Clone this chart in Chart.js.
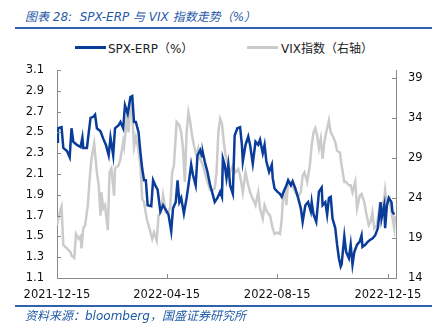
<!DOCTYPE html>
<html>
<head>
<meta charset="utf-8">
<script src="https://cdn.jsdelivr.net/npm/chart.js@4.4.1/dist/chart.umd.min.js"></script>
<style>
  body { margin: 0; width: 447px; height: 332px; position: relative; overflow: hidden; background: #fff;
         font-family: "DejaVu Sans", "Noto Sans CJK SC", sans-serif; }
  #title { position: absolute; left: 25px; top: 7px; font-size: 12px; font-style: italic; color: #1f5aa8; white-space: nowrap; }
  #src { position: absolute; left: 25px; top: 305px; font-size: 12px; font-style: italic; color: #1f5aa8; white-space: nowrap; }
  .rule { position: absolute; left: 15px; width: 417px; height: 2px; background: #2f62ab; }
  .lg { position: absolute; height: 3px; }
  .lgt { position: absolute; top: 39px; font-size: 12px; color: #222; white-space: nowrap; }
  #box { position: absolute; left: 0; top: 0; width: 447px; height: 332px; }
</style>
</head>
<body>
<div id="title">图表 28:&nbsp; SPX-ERP 与 VIX 指数走势（%）</div>
<div class="rule" style="top:27px"></div>
<div class="lg" style="left:75px;top:46px;width:31px;background:#0a3c9a"></div>
<div class="lgt" style="left:108px">SPX-ERP（%）</div>
<div class="lg" style="left:247px;top:46px;width:31px;background:#cbcbcb"></div>
<div class="lgt" style="left:281px">VIX指数（右轴）</div>
<div id="box"><canvas id="c" width="447" height="332"></canvas></div>
<div class="rule" style="top:305px"></div>
<div id="src" style="top:306px">资料来源：bloomberg，国盛证券研究所</div>
<script>
// days counted from 2021-12-15
var tickDays = [0, 121, 243, 365];
var tickLabels = ['2021-12-15', '2022-04-15', '2022-08-15', '2022-12-15'];
var leftTicks = [1.1, 1.3, 1.5, 1.7, 1.9, 2.1, 2.3, 2.5, 2.7, 2.9, 3.1];
var rightTicks = [14, 19, 24, 29, 34, 39];

var spxDays = [0,1,5,7,11,14,16,18,22,26,28,29,33,37,40,42,44,48,51,54,57,59,62,64,68,70,73,75,78,81,83,85,87,90,
  92,94,96,98,100,104,106,109,111,114,117,121,123,126,128,131,133,135,137,140,143,145,148,150,153,155,158,160,161,163,
  166,169,171,174,177,180,182,183,185,187,189,191,194,196,199,202,204,205,208,211,213,216,219,222,224,227,229,231,234,
  237,238,240,243,246,248,250,253,255,258,260,263,266,269,271,274,277,280,281,283,286,289,292,293,296,298,300,302,304,
  307,309,311,313,314,317,319,322,324,326,328,331,334,336,337,340,343,346,348,351,354,357,358,361,362,364,366,369,370,372];
var spxVals = [2.41,2.54,2.55,2.35,2.32,2.26,2.54,2.41,2.38,2.36,2.45,2.35,2.35,2.64,2.65,2.67,2.54,2.51,2.44,2.38,2.28,2.45,2.28,2.54,2.57,2.60,2.54,2.76,2.68,2.84,2.85,2.60,2.60,2.50,
  2.31,2.15,2.04,2.04,1.80,1.79,2.04,1.98,1.95,1.74,1.80,1.74,1.71,1.55,1.77,1.83,2.04,1.83,1.87,1.72,1.87,1.99,2.19,2.09,1.99,2.28,2.33,2.27,2.30,2.22,
  2.12,1.99,1.93,1.83,1.87,1.93,1.88,2.25,2.19,2.06,2.19,1.99,1.91,2.47,2.54,2.55,2.38,2.22,2.38,2.46,2.38,2.20,2.41,2.38,2.43,2.30,2.38,2.22,2.12,
  2.19,2.06,1.96,1.93,1.91,1.88,1.93,1.99,2.04,1.99,2.03,1.96,1.87,1.77,1.64,1.80,1.83,1.74,1.83,1.71,1.64,1.93,1.97,1.80,1.83,1.71,1.87,1.88,1.67,
  1.58,1.42,1.29,1.21,1.23,1.50,1.35,1.29,1.42,1.23,1.35,1.42,1.45,1.51,1.40,1.42,1.45,1.47,1.48,1.51,1.58,1.83,1.67,1.80,1.58,1.80,1.87,1.83,1.74,1.71];

var vixDays = [0,3,5,7,11,15,16,19,21,24,26,27,29,31,34,36,38,41,44,46,48,49,51,53,56,58,60,63,64,68,70,73,74,77,79,81,83,85,87,89,
  92,94,96,99,102,105,107,110,112,115,117,120,123,125,127,129,132,135,137,139,141,143,145,147,149,151,154,156,158,161,164,166,169,171,
  174,176,178,180,182,184,186,189,191,194,197,200,202,205,208,211,213,216,219,222,224,227,229,232,235,238,240,243,246,248,249,252,253,
  255,258,260,263,266,269,271,273,276,279,281,283,285,287,289,291,293,295,297,300,302,304,307,309,312,314,317,319,322,324,326,329,331,
  334,336,339,341,344,346,348,350,353,356,358,361,362,364,367,369,372,373];
var vixVals = [20.6,22.2,22.9,18.1,17.7,17.2,16.8,16.5,19.5,18.9,19.2,17.7,20.2,20.6,23.1,26.4,28.9,30.8,27.2,25.6,21.8,24.7,22.7,23.1,20.0,27.2,27.7,24.3,27.7,28.1,28.9,31.0,30.4,33.9,32.2,36.4,34.3,30.4,31.6,30.6,
  28.1,23.9,23.5,21.4,20.2,18.9,19.7,18.7,21.8,22.2,24.3,22.2,22.2,22.9,27.2,28.1,33.5,33.1,32.2,30.2,26.0,32.2,34.7,33.5,31.8,30.6,29.3,30.2,28.9,28.1,26.8,26.0,25.0,24.9,
  25.2,27.2,32.2,33.9,33.3,31.0,29.3,28.1,27.2,28.1,27.2,27.6,26.8,24.7,27.2,25.6,24.7,23.9,23.1,24.7,22.7,21.4,23.1,22.2,21.8,20.2,19.5,19.7,19.5,21.4,23.5,24.7,23.1,
  26.0,26.0,25.6,24.7,24.2,24.7,26.8,27.2,26.0,28.1,30.6,32.2,32.7,31.8,30.2,31.4,28.9,31.0,32.2,33.7,32.2,31.8,31.0,29.9,29.7,28.1,26.0,26.0,25.6,25.6,24.7,26.0,22.7,
  24.3,24.5,23.5,22.2,20.6,21.0,22.2,20.2,20.6,23.1,22.7,23.9,25.0,23.1,23.9,22.2,20.2,21.8];

var tickFont = { family: 'DejaVu Sans', size: 11.5 };
var axisColor = '#8a8a8a';

// short tick marks drawn inside the plot, like the original
var innerTicks = {
  id: 'innerTicks',
  afterDraw(chart) {
    var ctx = chart.ctx, a = chart.chartArea, s = chart.scales;
    ctx.save();
    ctx.strokeStyle = axisColor;
    ctx.lineWidth = 1;
    ctx.beginPath();
    s.y.ticks.forEach(function (t) {
      var p = Math.round(s.y.getPixelForValue(t.value)) + 0.5;
      ctx.moveTo(a.left, p); ctx.lineTo(a.left + 4, p);
    });
    s.y1.ticks.forEach(function (t) {
      var p = Math.round(s.y1.getPixelForValue(t.value)) + 0.5;
      ctx.moveTo(a.right, p); ctx.lineTo(a.right - 4, p);
    });
    s.x.ticks.forEach(function (t) {
      var p = Math.round(s.x.getPixelForValue(t.value)) + 0.5;
      ctx.moveTo(p, a.bottom); ctx.lineTo(p, a.bottom - 4);
    });
    ctx.stroke();
    ctx.restore();
  }
};

new Chart(document.getElementById('c'), {
  type: 'line',
  data: {
    datasets: [{
      label: 'SPX-ERP（%）',
      data: spxDays.map(function (d, i) { return { x: d, y: spxVals[i] }; }),
      borderColor: '#0a3c9a',
      borderWidth: 2.5,
      pointRadius: 0,
      yAxisID: 'y',
      fill: false
    }, {
      label: 'VIX指数（右轴）',
      data: vixDays.map(function (d, i) { return { x: d, y: vixVals[i] }; }),
      borderColor: '#cbcbcb',
      borderWidth: 2.5,
      pointRadius: 0,
      yAxisID: 'y1',
      fill: false
    }]
  },
  options: {
    responsive: false,
    animation: false,
    devicePixelRatio: 1,
    layout: { padding: { top: 70, bottom: 34, left: 0, right: 0 } },
    plugins: { legend: { display: false }, tooltip: { enabled: false } },
    scales: {
      x: {
        type: 'linear', min: 0, max: 374,
        grid: { display: false, drawTicks: false },
        border: { display: true, color: axisColor, width: 1 },
        afterBuildTicks: function (sc) { sc.ticks = tickDays.map(function (v) { return { value: v }; }); },
        afterFit: function (sc) { sc.height = 20; },
        ticks: {
          autoSkip: false, maxRotation: 0, padding: 10, color: '#111', font: tickFont,
          callback: function (v, i) { return tickLabels[i]; }
        }
      },
      y: {
        position: 'left', min: 1.1, max: 3.1,
        grid: { display: false, drawTicks: false },
        border: { display: true, color: axisColor, width: 1 },
        afterBuildTicks: function (sc) { sc.ticks = leftTicks.map(function (v) { return { value: v }; }); },
        afterFit: function (sc) { sc.width = 57; },
        ticks: { padding: 13, color: '#111', font: tickFont, callback: function (v) { return v.toFixed(1); } }
      },
      y1: {
        position: 'right', min: 14, max: 40,
        grid: { display: false, drawTicks: false },
        border: { display: true, color: axisColor, width: 1 },
        afterBuildTicks: function (sc) { sc.ticks = rightTicks.map(function (v) { return { value: v }; }); },
        afterFit: function (sc) { sc.width = 51; },
        ticks: { padding: 12, color: '#111', font: tickFont }
      }
    }
  },
  plugins: [innerTicks]
});
</script>
</body>
</html>
